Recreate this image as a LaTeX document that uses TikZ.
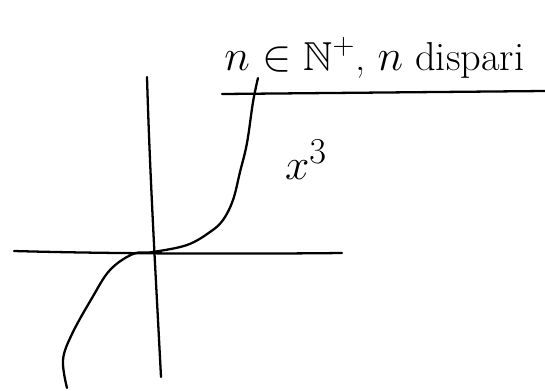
\documentclass[tikz,border=0pt]{standalone}
\usepackage{amsmath, amssymb}
\usepackage{tikz}
\usetikzlibrary{calc}

\begin{document}
\begin{tikzpicture}[x=0.02cm, y=-0.02cm, line cap=round, line join=round]
  \useasboundingbox (0,0) rectangle (545,390);
  % Assi
  \draw[line width=1.3pt] (14,251) .. controls (120,254) and (250,254) .. (342,253);
  \draw[line width=1.3pt] (147,77) .. controls (150,180) and (156,280) .. (161,377);
  % Curva x^3
  \draw[line width=1.3pt] plot[smooth, tension=0.6] coordinates {
    (258,78) (253,102) (247,143) (240,172) (233,200) (223,220) (210,232)
    (187,245) (153,252) (133,254) (110,270) (92,298) (72,334) (63,360) (67,388)};
  \node[font=\fontsize{28}{30}\selectfont] (etichetta) at (306,160) {$x^3$};
  % Condizione su n
  \draw[line width=1.3pt] (222,94) -- (545,91);
  \node[anchor=base west, inner sep=0pt, font=\fontsize{23}{25}\selectfont] (condizione) at (224,70)
    {$n\in\mathbb{N}^+$, $n$ dispari};
\end{tikzpicture}
\end{document}
